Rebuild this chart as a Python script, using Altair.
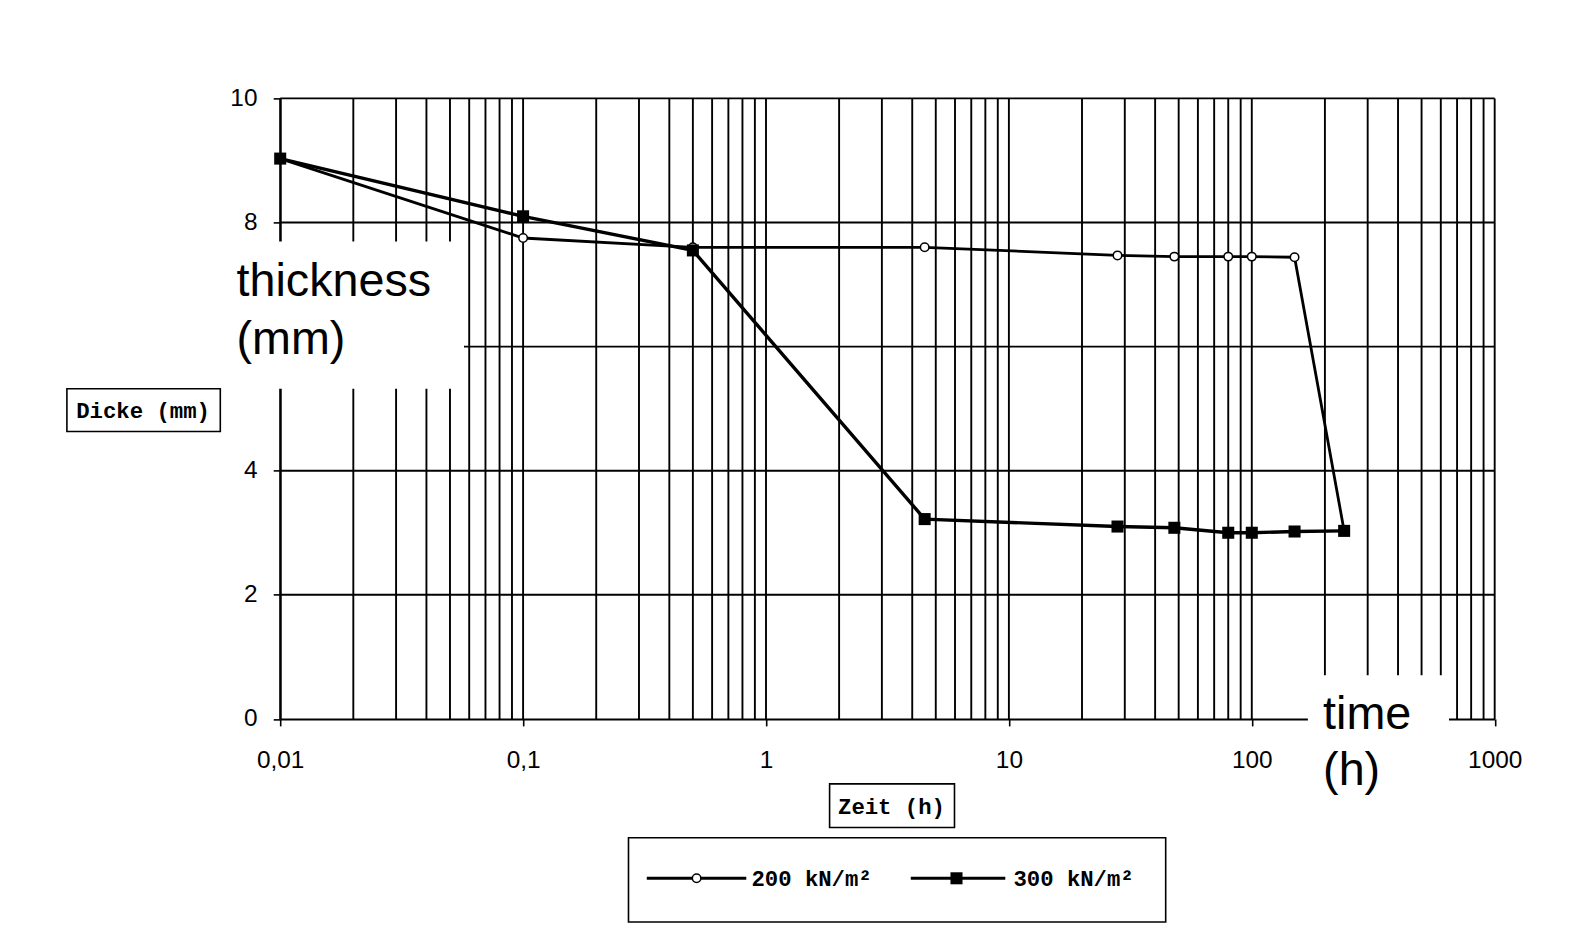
import altair as alt
import pandas as pd

# ---- data ----
time_200 = [0.01, 0.1, 0.5, 4.5, 28, 48, 80, 100, 150, 240]
thick_200 = [9.03, 7.75, 7.6, 7.6, 7.47, 7.45, 7.45, 7.45, 7.44, 3.03]
time_300 = [0.01, 0.1, 0.5, 4.5, 28, 48, 80, 100, 150, 240]
thick_300 = [9.03, 8.1, 7.55, 3.22, 3.1, 3.08, 3.0, 3.0, 3.02, 3.03]

series_names = ["200 kN/m²", "300 kN/m²"]

x_label_values = [0.01, 0.1, 1, 10, 100, 1000]
x_labels = ["0,01", "0,1", "1", "10", "100", "1000"]
y_label_values = [0, 2, 4, 8, 10]  # the "6" label is hidden in the reference

decades = [0.01, 0.1, 1, 10, 100]
v_grid = [round(k * d, 6) for d in decades for k in range(1, 10)] + [1000]
h_grid = [2, 4, 6, 8, 10]

df200 = pd.DataFrame({"time": time_200, "thick": thick_200, "series": series_names[0]})
df300 = pd.DataFrame({"time": time_300, "thick": thick_300, "series": series_names[1]})
vdf = pd.DataFrame({"v": v_grid})
hdf = pd.DataFrame({"h": h_grid})
one = pd.DataFrame({"a": [0]})

S = 1.0155  # layout scale


def p(v):
    return round(v * S, 1)


label_expr = " : ".join(
    f"datum.value == {v} ? '{l}'" for v, l in zip(x_label_values, x_labels)
) + " : ''"

xscale = alt.Scale(type="log", domain=[0.01, 1000], nice=False)
yscale = alt.Scale(domain=[0, 10], nice=False)

xaxis = alt.Axis(values=x_label_values, labelExpr=label_expr, title=None, grid=False,
                 domainColor="black", domainWidth=2, tickColor="black", tickWidth=1.6,
                 tickSize=7, labelFont="Liberation Sans", labelFontSize=p(24),
                 labelColor="black", labelPadding=p(22), labelFlush=False, labelOverlap=False)
yaxis = alt.Axis(values=y_label_values, title=None, grid=False,
                 domainColor="black", domainWidth=2, tickColor="black", tickWidth=1.6,
                 tickSize=7, labelFont="Liberation Sans", labelFontSize=p(24),
                 labelColor="black", labelPadding=p(16), labelFlush=False, labelOverlap=False)

X = lambda f: alt.X(f, scale=xscale, axis=xaxis)
Y = lambda f: alt.Y(f, scale=yscale, axis=yaxis)

vgrid = alt.Chart(vdf).mark_rule(color="black", strokeWidth=1.9).encode(x=X("v:Q"))
hgrid = alt.Chart(hdf).mark_rule(color="black", strokeWidth=1.9).encode(y=Y("h:Q"))

line200 = alt.Chart(df200).mark_line(color="black", strokeWidth=2.8).encode(
    x=X("time:Q"), y=Y("thick:Q"))
line300 = alt.Chart(df300).mark_line(color="black", strokeWidth=3.4).encode(
    x=X("time:Q"), y=Y("thick:Q"))
pts200 = alt.Chart(df200).mark_circle(fill="white", stroke="black", strokeWidth=1.5,
                                      size=72, opacity=1).encode(
    x=X("time:Q"), y=Y("thick:Q"))
pts300 = alt.Chart(df300).mark_square(color="black", size=145, opacity=1).encode(
    x=X("time:Q"), y=Y("thick:Q"))


def rect(x1, x2, y1, y2, stroke=None):
    kw = dict(fill="white", opacity=1)
    if stroke:
        kw.update(stroke="black", strokeWidth=1.6)
    return alt.Chart(one).mark_rect(**kw).encode(
        x=alt.value(p(x1)), x2=alt.value(p(x2)), y=alt.value(p(y1)), y2=alt.value(p(y2)))


def txt(s, x, y, font, size, align="left", baseline="alphabetic", weight="normal"):
    return alt.Chart(one).mark_text(align=align, baseline=baseline, font=font,
                                    fontSize=p(size), fontWeight=weight, color="black").encode(
        x=alt.value(p(x)), y=alt.value(p(y)), text=alt.value(s))


# overlays (white patches with English labels)
cover1 = rect(-51, 181, 141, 286)
cover2 = rect(1012, 1151, 568, 703)
t_thick = txt("thickness", -43, 195, "Liberation Sans", 46)
t_mm = txt("(mm)", -43, 252, "Liberation Sans", 46)
t_time = txt("time", 1027, 621, "Liberation Sans", 46)
t_h = txt("(h)", 1027, 676, "Liberation Sans", 46)

# boxed axis titles
box_y = rect(-210, -59, 286, 328, stroke=True)
lab_y = txt("Dicke (mm)", -135, 308, "Liberation Mono", 22, align="center",
            baseline="middle", weight="bold")
box_x = rect(541, 664, 675, 718, stroke=True)
lab_x = txt("Zeit (h)", 602, 698, "Liberation Mono", 22, align="center",
            baseline="middle", weight="bold")

# legend
box_leg = rect(343, 872, 728, 811, stroke=True)
leg_l1 = alt.Chart(one).mark_rule(color="black", strokeWidth=3).encode(
    x=alt.value(p(361)), x2=alt.value(p(459)), y=alt.value(p(768)))
leg_p1 = alt.Chart(one).mark_circle(fill="white", stroke="black", strokeWidth=1.5,
                                    size=72, opacity=1).encode(x=alt.value(p(410)), y=alt.value(p(768)))
leg_t1 = txt(series_names[0], 464, 769, "Liberation Mono", 22, baseline="middle", weight="bold")
leg_l2 = alt.Chart(one).mark_rule(color="black", strokeWidth=3).encode(
    x=alt.value(p(621)), x2=alt.value(p(714)), y=alt.value(p(768)))
leg_p2 = alt.Chart(one).mark_square(color="black", size=145, opacity=1).encode(
    x=alt.value(p(666)), y=alt.value(p(768)))
leg_t2 = txt(series_names[1], 722, 769, "Liberation Mono", 22, baseline="middle", weight="bold")

chart = alt.layer(
    vgrid, hgrid, line200, line300, pts200, pts300,
    cover1, cover2, t_thick, t_mm, t_time, t_h,
    box_y, lab_y, box_x, lab_x,
    box_leg, leg_l1, leg_p1, leg_t1, leg_l2, leg_p2, leg_t2,
).properties(
    width=p(1196), height=p(611),
    padding={"left": p(268), "top": p(89), "right": 60, "bottom": 214},
    autosize=alt.AutoSizeParams(type="none"),
    background="white",
).configure_view(stroke=None)

chart.save("out.html", embed_options={"renderer": "svg", "actions": False})
